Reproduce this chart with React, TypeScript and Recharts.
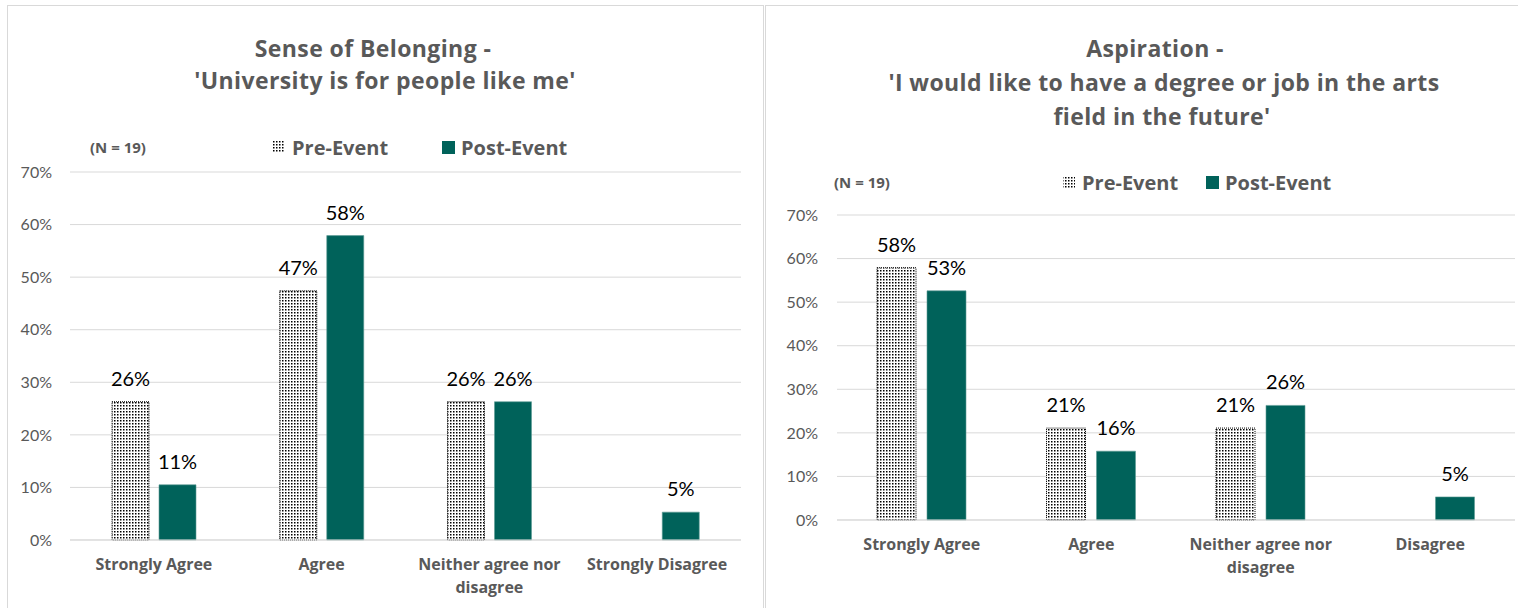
import { BarChart, Bar, XAxis, YAxis, CartesianGrid, LabelList, Text } from 'recharts';

const FONT = 'Lato, "Open Sans", sans-serif';
const BOLD_FONT = '"Open Sans", Lato, sans-serif';
const TEAL = '#00625a';
const GREY = '#595959';

const leftCategories = ['Strongly Agree', 'Agree', 'Neither agree nor disagree', 'Strongly Disagree'];
const leftPre = [26.3, 47.4, 26.3, null];
const leftPost = [10.5, 57.9, 26.3, 5.3];

const rightCategories = ['Strongly Agree', 'Agree', 'Neither agree nor disagree', 'Disagree'];
const rightPre = [57.9, 21.1, 21.1, null];
const rightPost = [52.6, 15.8, 26.3, 5.3];

const yTicks = [0, 10, 20, 30, 40, 50, 60, 70];
const seriesNames = ['Pre-Event', 'Post-Event'];

const leftData = leftCategories.map((c, i) => ({ name: c, pre: leftPre[i], post: leftPost[i] }));
const rightData = rightCategories.map((c, i) => ({ name: c, pre: rightPre[i], post: rightPost[i] }));

const CategoryTick = (props: any) => {
  const { x, y, payload } = props;
  return (
    <Text
      x={x}
      y={y + 11}
      width={160}
      textAnchor="middle"
      verticalAnchor="start"
      lineHeight={23}
      fill={GREY}
      fontSize={16}
      fontWeight="bold"
      fontFamily={BOLD_FONT}
    >
      {payload.value}
    </Text>
  );
};

const pct = (v: any) => (v == null ? '' : Math.round(v) + '%');

const Panel = ({ data, left, width, top, bottom, yWidth, right, barSize, barGap, tickMargin }: any) => (
  <div style={{ position: 'absolute', left, top: 0 }}>
    <BarChart
      width={width}
      height={608}
      data={data}
      margin={{ top, right, left: 0, bottom: 28 }}
      barSize={barSize}
      barGap={barGap}
    >
      <CartesianGrid vertical={false} stroke="#d9d9d9" />
      <XAxis
        dataKey="name"
        height={bottom}
        axisLine={{ stroke: '#d9d9d9' }}
        tickLine={false}
        tick={<CategoryTick />}
        interval={0}
      />
      <YAxis
        width={yWidth}
        domain={[0, 70]}
        ticks={yTicks}
        tickFormatter={(v) => v + '%'}
        axisLine={false}
        tickLine={false}
        tickMargin={tickMargin}
        tick={{ fill: GREY, fontSize: 16, fontFamily: FONT }}
      />
      <Bar dataKey="pre" fill="url(#dots)" stroke="#000" strokeWidth={1} strokeDasharray="1 1" isAnimationActive={false}>
        <LabelList dataKey="pre" position="top" offset={16} formatter={pct} fill="#000" fontSize={20} fontFamily={FONT} />
      </Bar>
      <Bar dataKey="post" fill={TEAL} stroke="#5e9c96" strokeWidth={0.6} isAnimationActive={false}>
        <LabelList dataKey="post" position="top" offset={16} formatter={pct} fill="#000" fontSize={20} fontFamily={FONT} />
      </Bar>
    </BarChart>
  </div>
);

const Legend = ({ nx, ny, preX, postX }: any) => (
  <g fontFamily={BOLD_FONT} fontWeight="bold" fill={GREY}>
    <text x={nx} y={ny} fontSize={15} dominantBaseline="central">(N = 19)</text>
    <rect x={preX} y={ny - 6} width={12} height={12} fill="url(#dots)" />
    <text x={preX + 19} y={ny} fontSize={20} dominantBaseline="central">{seriesNames[0]}</text>
    <rect x={postX} y={ny - 6} width={13} height={13} fill={TEAL} />
    <text x={postX + 19} y={ny} fontSize={20} dominantBaseline="central">{seriesNames[1]}</text>
  </g>
);

export default function App() {
  return (
    <div style={{ position: 'absolute', left: 0, top: 0, width: 1518, height: 608, overflow: 'hidden', background: '#fff' }}>
      <svg width={1518} height={608} style={{ position: 'absolute', left: 0, top: 0 }}>
        <defs>
          <pattern id="dots" patternUnits="userSpaceOnUse" width={3} height={3}>
            <rect x={0} y={0} width={3} height={3} fill="#fff" />
            <rect x={0} y={0} width={1.5} height={1.5} fill="#000" />
          </pattern>
        </defs>
        <rect x={7.5} y={5.5} width={756} height={640} fill="none" stroke="#d9d9d9" />
        <rect x={765.5} y={5.5} width={800} height={640} fill="none" stroke="#d9d9d9" />
        <g fontFamily={BOLD_FONT} fontWeight="bold" fill={GREY} fontSize={23} letterSpacing={0.4} textAnchor="middle">
          <text x={373} y={48} dominantBaseline="central">Sense of Belonging -</text>
          <text x={385} y={80} dominantBaseline="central">'University is for people like me'</text>
          <text x={1155} y={48} dominantBaseline="central">Aspiration -</text>
          <text x={1164} y={82} dominantBaseline="central">'I would like to have a degree or job in the arts</text>
          <text x={1162} y={116} dominantBaseline="central">field in the future'</text>
        </g>
        <Legend nx={90} ny={147} preX={273} postX={442} />
        <Legend nx={834} ny={182} preX={1063} postX={1206} />
      </svg>
      <Panel data={leftData} left={0} width={763} top={172} bottom={40} yWidth={70} right={22} barSize={37} barGap={10} tickMargin={12} />
      <Panel data={rightData} left={763} width={755} top={215} bottom={60} yWidth={74} right={3} barSize={39} barGap={11} tickMargin={13} />
    </div>
  );
}
